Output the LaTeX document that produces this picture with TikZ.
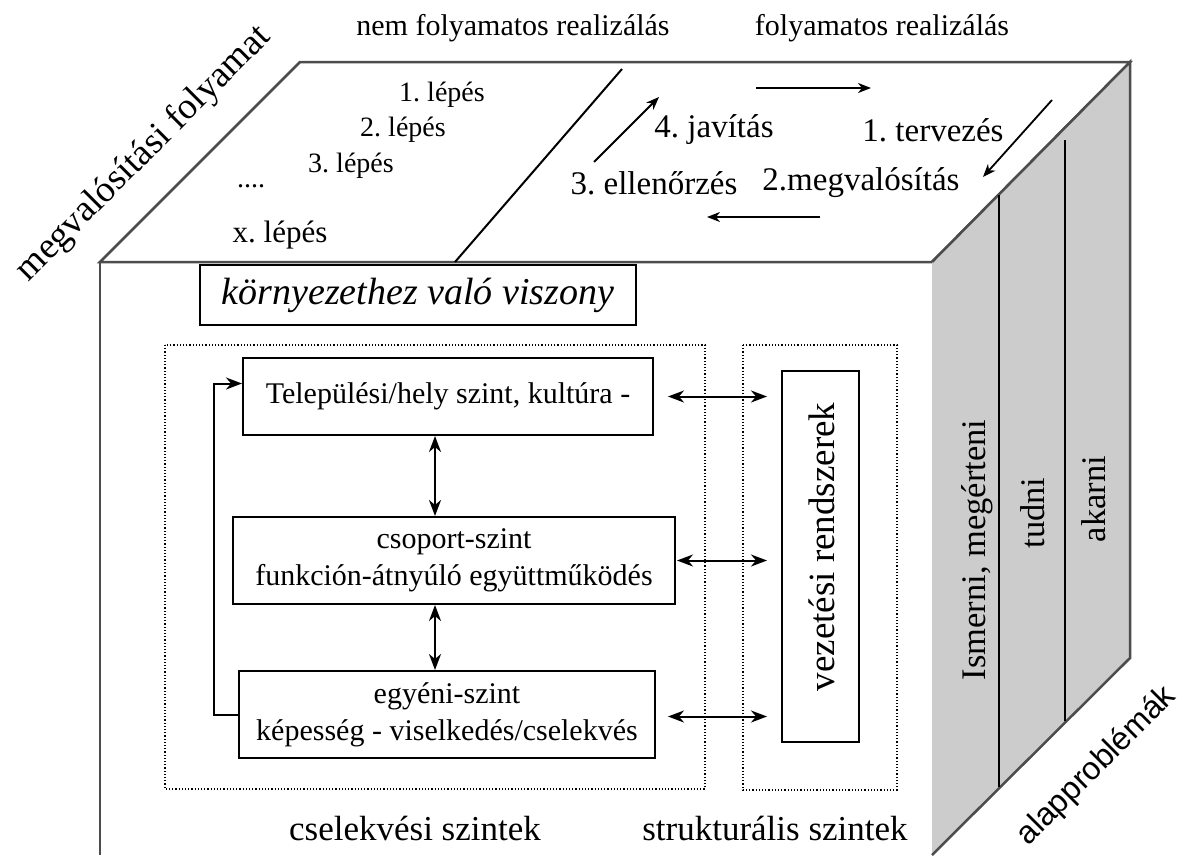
\documentclass[tikz,border=0pt]{standalone}
\usepackage{fontspec}
\setmainfont{Liberation Serif}
\setsansfont{Liberation Sans}
\usetikzlibrary{positioning,arrows.meta,calc}

\tikzset{
  edge/.style={draw=black!70,line width=2.5pt},
  levelbox/.style={draw,line width=2pt,align=center,inner sep=0pt,font=\fontsize{30}{37}\selectfont},
  framebox/.style={draw,dotted,line width=1.2pt},
  lbl/.style={font=\fontsize{30}{34}\selectfont,inner sep=0pt},
  conn/.style={line width=2pt,>={Stealth[length=16pt,width=12pt,inset=5pt]}},
  topconn/.style={line width=1.8pt,>={Stealth[length=13pt,width=10pt,inset=4pt]}}
}

\begin{document}
\frenchspacing
\begin{tikzpicture}[x=1pt,y=-1pt]
\useasboundingbox (0,0) rectangle (1186,855);

% cube faces
\filldraw[edge,fill=white] (100,262) -- (300,62) -- (1130,62) -- (932,262) -- cycle;
\filldraw[edge,fill=black!20] (932,262) -- (1130,62) -- (1130,658) -- (932,855);
\draw[edge] (100,262) -- (100,855);
\draw[line width=2pt] (999,195) -- (999,787);
\draw[line width=2pt] (1065,140) -- (1065,721);
\draw[line width=2pt] (455,262) -- (622,69);

% outside labels
\node[lbl] (nemfoly) at (513,28) {nem folyamatos realizálás};
\node[lbl] (foly) at (882,28) {folyamatos realizálás};
\node[lbl,rotate=45,font=\fontsize{37}{40}\selectfont] (megval) at (144,154) {megvalósítási folyamat};
\node[lbl,rotate=45,font=\sffamily\fontsize{32}{36}\selectfont] (alap) at (1097,766) {alapproblémák};

% top face, left part
\node[lbl,font=\fontsize{28}{32}\selectfont] (s1) at (442,95) {1. lépés};
\node[lbl,font=\fontsize{28}{32}\selectfont] (s2) at (403,130) {2. lépés};
\node[lbl,font=\fontsize{28}{32}\selectfont] (s3) at (351,166) {3. lépés};
\node[lbl,font=\fontsize{28}{32}\selectfont] (sdots) at (251,186) {....};
\node[lbl,font=\fontsize{31}{34}\selectfont] (sx) at (280,235) {x. lépés};

% top face, right part
\node[lbl,font=\fontsize{33}{36}\selectfont] (javit) at (714,130) {4. javítás};
\node[lbl,font=\fontsize{33}{36}\selectfont] (terv) at (933,130) {1. tervezés};
\node[lbl,font=\fontsize{33}{36}\selectfont] (ellen) at (654,183) {3. ellenőrzés};
\node[lbl,font=\fontsize{33}{36}\selectfont] (megv) at (861,183) {2.megvalósítás};
\coordinate (c1) at (756,88);
\coordinate (c2) at (871,88);
\coordinate (c3) at (1052,100);
\coordinate (c4) at (983,177);
\coordinate (c5) at (820,217);
\coordinate (c6) at (707,217);
\coordinate (c7) at (594,162);
\coordinate (c8) at (659,97);
\draw[topconn,->] (c1) -- (c2);
\draw[topconn,->] (c3) -- (c4);
\draw[topconn,->] (c5) -- (c6);
\draw[topconn,->] (c7) -- (c8);

% grey face
\node[lbl,rotate=90,font=\fontsize{34.5}{38}\selectfont] (ism) at (977,550) {Ismerni, megérteni};
\node[lbl,rotate=90,font=\fontsize{34.5}{38}\selectfont] (tud) at (1033,513) {tudni};
\node[lbl,rotate=90,font=\fontsize{34.5}{38}\selectfont] (akar) at (1094,499) {akarni};

% front face
\node[levelbox,font=\itshape\fontsize{38}{40}\selectfont,minimum width=436,minimum height=60] (kornyezet) at (418,295) {környezethez való viszony};
\draw[framebox] (165,345) rectangle (705,789);
\draw[framebox] (743,345) rectangle (897,790);
\node[levelbox,minimum width=410,minimum height=77] (b1) at (448,396.5) {Települési/hely szint, kultúra -};
\node[levelbox,minimum width=442,minimum height=87] (b2) at (454,560.5) {csoport-szint\\funkción-átnyúló együttműködés};
\node[levelbox,minimum width=416,minimum height=87] (b3) at (447,714.5) {egyéni-szint\\képesség - viselkedés/cselekvés};
\node[levelbox,minimum width=77,minimum height=371] (vr) at (820.5,556.5) {};
\node[lbl,rotate=90,font=\fontsize{37}{40}\selectfont] (vrtext) at (822,547) {vezetési rendszerek};
\node[lbl,font=\fontsize{35}{38}\selectfont] (cselek) at (415,828) {cselekvési szintek};
\node[lbl,font=\fontsize{35}{38}\selectfont] (strukt) at (775,828) {strukturális szintek};

\coordinate (ax) at (435,0);
\draw[conn,<->] (b1.south -| ax) -- (b2.north -| ax);
\draw[conn,<->] (b2.south -| ax) -- (b3.north -| ax);
\draw[conn,->] (b3.west) -- ++(-24,0) |- ([yshift=13pt]b1.west);
\draw[conn,<->,shorten <=14pt,shorten >=14pt] (b1.east) -- (b1.east -| vr.west);
\draw[conn,<->,shorten <=1pt,shorten >=14pt] (b2.east) -- (b2.east -| vr.west);
\draw[conn,<->,shorten <=12pt,shorten >=14pt] ([yshift=-2pt]b3.east) -- ([yshift=-2pt]b3.east -| vr.west);

\end{tikzpicture}
\end{document}
